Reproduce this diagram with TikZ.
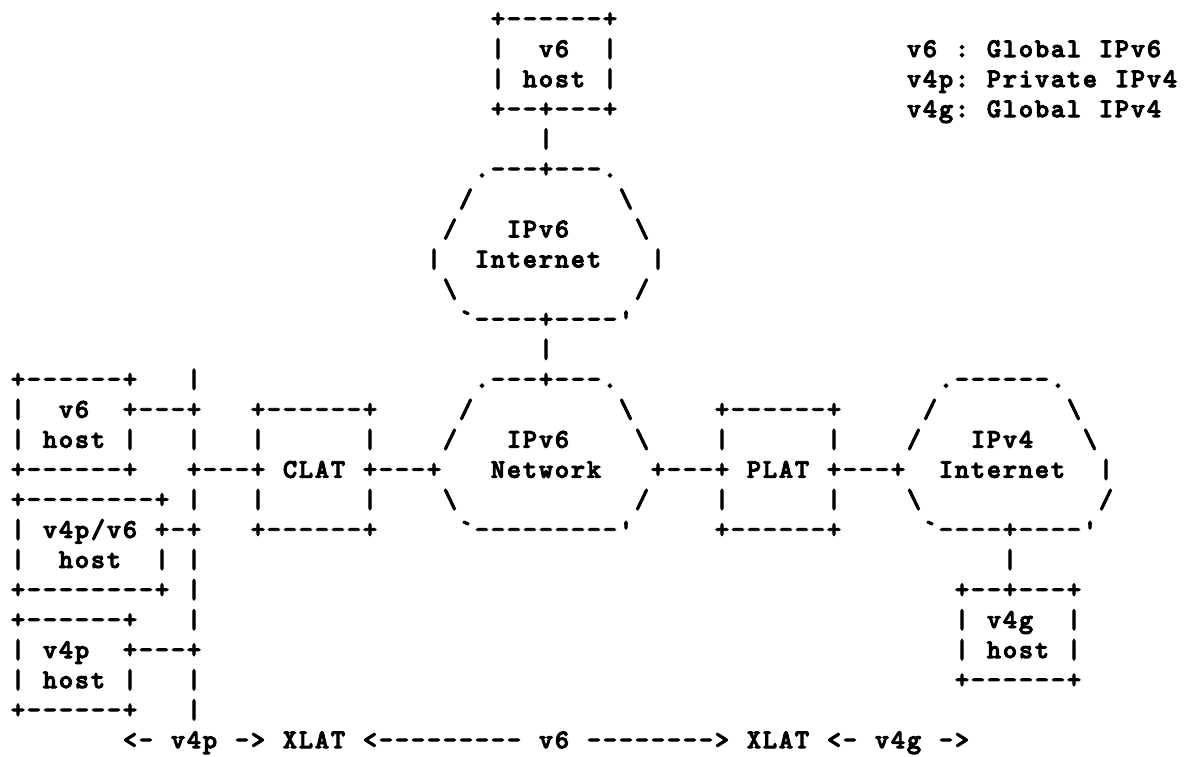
\documentclass[tikz,border=0pt]{standalone}
\font\asciibold="[lmmonolt10-bold]:embolden=3.5" at 27pt
\tikzset{
  txt/.style={anchor=base west, inner sep=0pt, outer sep=0pt,
    font=\asciibold, text=black}
}
% every character sits in its own 16pt wide cell
\def\cells#1{\ifx#1\relax\else\makebox[16pt]{#1}\expandafter\cells\fi}
\newcommand\seg[3]{\node[txt] (r#1c#2) at ({10+16*#2},{27+30.05*(#1-1)}) {\cells#3\relax};}
\newcommand\bs{\char"5C\relax}
\begin{document}
\begin{tikzpicture}[x=1pt,y=-1pt]
\fill[white] (0,0) rectangle (1184,756);
\useasboundingbox (0,0) rectangle (1184,756);
% row 1-4
\seg{1}{30}{+------+}
\seg{2}{30}{|}\seg{2}{33}{v6}\seg{2}{37}{|}\seg{2}{56}{v6~:~Global~IPv6}
\seg{3}{30}{|}\seg{3}{32}{host}\seg{3}{37}{|}\seg{3}{56}{v4p:~Private~IPv4}
\seg{4}{30}{+--+---+}\seg{4}{56}{v4g:~Global~IPv4}
% IPv6 Internet
\seg{5}{33}{|}
\seg{6}{29}{.---+---.}
\seg{7}{28}{/}\seg{7}{38}{\bs}
\seg{8}{27}{/}\seg{8}{31}{IPv6}\seg{8}{39}{\bs}
\seg{9}{26}{|}\seg{9}{29}{Internet}\seg{9}{40}{|}
\seg{10}{27}{\bs}\seg{10}{39}{/}
\seg{11}{28}{`----+----'}
\seg{12}{33}{|}
% row 13
\seg{13}{0}{+------+}\seg{13}{11}{|}\seg{13}{29}{.---+---.}\seg{13}{58}{.------.}
% row 14
\seg{14}{0}{|}\seg{14}{3}{v6}\seg{14}{7}{+---+}\seg{14}{15}{+------+}
\seg{14}{28}{/}\seg{14}{38}{\bs}\seg{14}{44}{+------+}\seg{14}{57}{/}\seg{14}{66}{\bs}
% row 15
\seg{15}{0}{|}\seg{15}{2}{host}\seg{15}{7}{|}\seg{15}{11}{|}\seg{15}{15}{|}\seg{15}{22}{|}
\seg{15}{27}{/}\seg{15}{31}{IPv6}\seg{15}{39}{\bs}\seg{15}{44}{|}\seg{15}{51}{|}
\seg{15}{56}{/}\seg{15}{60}{IPv4}\seg{15}{67}{\bs}
% row 16
\seg{16}{0}{+------+}\seg{16}{11}{+---+}\seg{16}{17}{CLAT}\seg{16}{22}{+---+}
\seg{16}{30}{Network}\seg{16}{40}{+---+}\seg{16}{46}{PLAT}\seg{16}{51}{+---+}
\seg{16}{58}{Internet}\seg{16}{68}{|}
% row 17
\seg{17}{0}{+--------+}\seg{17}{11}{|}\seg{17}{15}{|}\seg{17}{22}{|}
\seg{17}{27}{\bs}\seg{17}{39}{/}\seg{17}{44}{|}\seg{17}{51}{|}\seg{17}{56}{\bs}\seg{17}{68}{/}
% row 18
\seg{18}{0}{|}\seg{18}{2}{v4p/v6}\seg{18}{9}{+-+}\seg{18}{15}{+------+}
\seg{18}{28}{`---------'}\seg{18}{44}{+------+}\seg{18}{57}{`----+----'}
% row 19
\seg{19}{0}{|}\seg{19}{3}{host}\seg{19}{9}{|}\seg{19}{11}{|}\seg{19}{62}{|}
% row 20
\seg{20}{0}{+--------+}\seg{20}{11}{|}\seg{20}{59}{+--+---+}
% row 21
\seg{21}{0}{+------+}\seg{21}{11}{|}\seg{21}{59}{|}\seg{21}{61}{v4g}\seg{21}{66}{|}
% row 22
\seg{22}{0}{|}\seg{22}{2}{v4p}\seg{22}{7}{+---+}\seg{22}{59}{|}\seg{22}{61}{host}\seg{22}{66}{|}
% row 23
\seg{23}{0}{|}\seg{23}{2}{host}\seg{23}{7}{|}\seg{23}{11}{|}\seg{23}{59}{+------+}
% row 24
\seg{24}{0}{+------+}\seg{24}{11}{|}
% row 25
\seg{25}{7}{<-~v4p~->~XLAT~<---------~v6~-------->~XLAT~<-~v4g~->}
\end{tikzpicture}
\end{document}
